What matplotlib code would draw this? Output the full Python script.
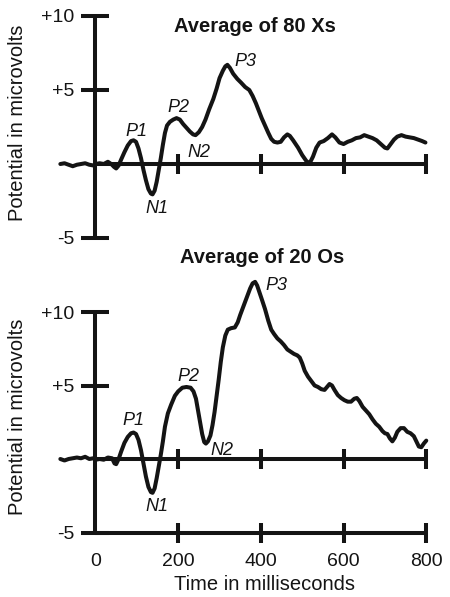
import matplotlib
matplotlib.use('Agg')
import matplotlib.pyplot as plt

plt.rcParams['font.family'] = ['Liberation Sans', 'DejaVu Sans']

INK = '#141414'

# Averaged ERP waveform for the frequent stimulus (80 Xs): time in ms, potential in microvolts
x_times = [-85, -75, -65, -55, -45, -35, -25, -15, -5, 0, 10, 20, 30, 38, 45, 50, 56, 62, 70, 78,
           86, 92, 98, 104, 110, 116, 122, 128, 134, 138, 143, 148, 153, 158, 163, 168, 173, 180,
           188, 196, 204, 212, 220, 228, 236, 242, 250, 258, 266, 275, 285, 293, 300, 308, 314,
           319, 325, 333, 343, 352, 362, 372, 380, 388, 395, 402, 410, 418, 425, 432, 440, 448,
           456, 464, 470, 478, 490, 500, 510, 518, 526, 534, 542, 552, 562, 572, 580, 590, 600,
           610, 620, 630, 640, 650, 660, 670, 680, 690, 700, 706, 714, 722, 730, 740, 750, 760,
           770, 780, 790, 798]
x_volts = [0.0, 0.05, -0.05, -0.15, -0.05, 0.0, 0.05, -0.05, -0.1, 0.0, 0.05, 0.0, 0.15, 0.0, -0.2,
           -0.3, -0.1, 0.3, 0.8, 1.25, 1.55, 1.6, 1.5, 1.05, 0.4, -0.4, -1.1, -1.7, -2.0, -2.05,
           -1.8, -1.2, -0.4, 0.4, 1.3, 2.1, 2.6, 2.85, 3.0, 3.1, 3.0, 2.7, 2.45, 2.2, 2.0, 1.95,
           2.15, 2.5, 3.0, 3.7, 4.4, 5.1, 5.8, 6.3, 6.6, 6.7, 6.5, 6.1, 5.75, 5.5, 5.2, 5.0, 4.6,
           4.1, 3.6, 3.1, 2.6, 2.1, 1.7, 1.5, 1.45, 1.5, 1.8, 2.0, 1.9, 1.6, 1.1, 0.6, 0.2, 0.05,
           0.5, 1.1, 1.45, 1.55, 1.75, 2.0, 1.8, 1.45, 1.35, 1.5, 1.6, 1.75, 1.8, 1.95, 1.85, 1.75,
           1.6, 1.35, 1.1, 1.05, 1.35, 1.65, 1.85, 1.95, 1.85, 1.8, 1.75, 1.65, 1.55, 1.45]

# Averaged ERP waveform for the rare stimulus (20 Os)
o_times = [-85, -75, -65, -55, -45, -35, -25, -15, -5, 0, 10, 20, 30, 40, 46, 50, 56, 62, 70, 78,
           86, 92, 98, 104, 110, 116, 122, 128, 134, 138, 143, 148, 153, 158, 163, 168, 175, 183,
           192, 200, 210, 220, 230, 237, 243, 248, 253, 258, 263, 267, 272, 278, 283, 288, 293,
           298, 303, 308, 314, 320, 328, 337, 344, 350, 358, 366, 374, 380, 386, 391, 397, 403,
           410, 418, 425, 432, 440, 448, 456, 464, 472, 480, 488, 494, 500, 506, 514, 522, 530,
           538, 546, 554, 560, 566, 572, 578, 586, 594, 602, 610, 618, 626, 632, 638, 646, 654,
           662, 670, 678, 686, 694, 700, 706, 712, 718, 724, 730, 738, 746, 754, 762, 770, 776,
           782, 788, 794, 800]
o_volts = [0.0, -0.1, 0.0, 0.05, 0.1, 0.05, 0.15, 0.0, 0.05, -0.05, 0.0, -0.05, 0.1, 0.05, -0.3,
           -0.35, 0.0, 0.5, 1.1, 1.5, 1.75, 1.8, 1.7, 1.3, 0.6, -0.3, -1.2, -1.9, -2.25, -2.3,
           -2.0, -1.3, -0.5, 0.3, 1.2, 2.2, 3.1, 3.7, 4.3, 4.6, 4.85, 4.9, 4.85, 4.6, 4.1, 3.3,
           2.5, 1.7, 1.15, 1.05, 1.2, 1.6, 2.3, 3.2, 4.3, 5.4, 6.6, 7.6, 8.4, 8.8, 8.9, 8.95, 9.3,
           9.8, 10.4, 11.0, 11.6, 11.95, 12.05, 11.8, 11.3, 10.8, 10.2, 9.4, 8.8, 8.5, 8.2, 8.0,
           7.75, 7.45, 7.3, 7.15, 7.05, 6.9, 6.5, 6.0, 5.6, 5.3, 5.0, 4.9, 4.75, 4.7, 4.9, 5.1,
           5.0, 4.7, 4.35, 4.15, 4.0, 3.9, 3.9, 4.1, 4.15, 3.95, 3.55, 3.3, 3.05, 2.7, 2.4, 2.2,
           1.9, 1.75, 1.7, 1.4, 1.2, 1.45, 1.85, 2.1, 2.1, 1.85, 1.75, 1.55, 1.2, 0.85, 0.8, 1.05,
           1.25]

# Component labels: (name, time, potential)
x_peaks = [('P1', 100, 2.2), ('N1', 149, -3.0), ('P2', 200, 3.8), ('N2', 250, 0.8), ('P3', 362, 6.9)]
o_peaks = [('P1', 91, 2.65), ('N1', 148, -3.2), ('P2', 224, 5.6), ('N2', 305, 0.6), ('P3', 438, 11.8)]

y_ticks = [10, 5, -5]
y_ticklabels = ['+10', '+5', '-5']
x_ticks = [0, 200, 400, 600, 800]
x_ticklabels = ['0', '200', '400', '600', '800']

W, H = 450, 597
fig = plt.figure(figsize=(W / 100, H / 100), dpi=100)


def px_box(left, top, right, bottom):
    return [left / W, 1 - bottom / H, (right - left) / W, (bottom - top) / H]


def style_axes(ax, ylim):
    ax.set_xlim(-100, 810)
    ax.set_ylim(*ylim)
    ax.patch.set_visible(False)
    for s in ['top', 'right', 'left', 'bottom']:
        ax.spines[s].set_linewidth(2.9)
        ax.spines[s].set_color(INK)
        ax.spines[s].set_capstyle('butt')
    ax.spines['right'].set_visible(False)
    ax.spines['left'].set_position(('data', 0))
    ax.spines['left'].set_bounds(-5, 10)
    ax.set_yticks(y_ticks)
    ax.set_yticklabels(y_ticklabels)
    ax.tick_params(axis='y', direction='inout', length=20, width=2.9, color=INK,
                   labelsize=14, labelcolor=INK, pad=5)
    ax.tick_params(axis='x', direction='inout', length=14, width=2.9, color=INK,
                   labelsize=14, labelcolor=INK, pad=8)


def draw_trace(ax, t, v, peaks):
    ax.plot(t, v, color=INK, lw=2.9, solid_joinstyle='round', solid_capstyle='round',
            clip_on=False, zorder=3)
    for name, pt, pv in peaks:
        ax.text(pt, pv, name, fontsize=13, fontstyle='italic', color=INK,
                ha='center', va='center')


# upper panel: frequent Xs
ax1 = fig.add_axes(px_box(54.15, 8.6, 430.4, 245.4))
style_axes(ax1, (-5.5, 10.5))
ax1.spines['top'].set_visible(False)
ax1.spines['bottom'].set_position(('data', 0))
ax1.spines['bottom'].set_bounds(0, 800)
ax1.set_xticks(x_ticks[1:])
ax1.tick_params(axis='x', labelbottom=False)
draw_trace(ax1, x_times, x_volts, x_peaks)

# lower panel: rare Os, with a zero line and a time axis at -5
ax2 = fig.add_axes(px_box(54.15, 275.25, 430.4, 539.85))
style_axes(ax2, (-5.5, 12.5))
ax2.spines['bottom'].set_position(('data', -5))
ax2.spines['bottom'].set_bounds(0, 800)
ax2.spines['top'].set_position(('data', 0))
ax2.spines['top'].set_bounds(0, 800)
ax2.set_xticks(x_ticks)
ax2.set_xticklabels(x_ticklabels)
ax2.tick_params(axis='x', top=True, labeltop=False)
first = ax2.xaxis.get_major_ticks()[0]
first.tick1line.set_visible(False)
first.tick2line.set_visible(False)
draw_trace(ax2, o_times, o_volts, o_peaks)

fig.text(255 / W, 1 - 27 / H, 'Average of 80 Xs', fontsize=14.5, fontweight='bold',
         color=INK, ha='center', va='center')
fig.text(262 / W, 1 - 257 / H, 'Average of 20 Os', fontsize=14.5, fontweight='bold',
         color=INK, ha='center', va='center')
fig.text(18 / W, 1 - 123 / H, 'Potential in microvolts', fontsize=14.5, rotation=90,
         color=INK, ha='center', va='center')
fig.text(18 / W, 1 - 417 / H, 'Potential in microvolts', fontsize=14.5, rotation=90,
         color=INK, ha='center', va='center')
fig.text(264 / W, 1 - 585 / H, 'Time in milliseconds', fontsize=14.5,
         color=INK, ha='center', va='center')

fig.savefig('out.png', dpi=100, facecolor='white')
